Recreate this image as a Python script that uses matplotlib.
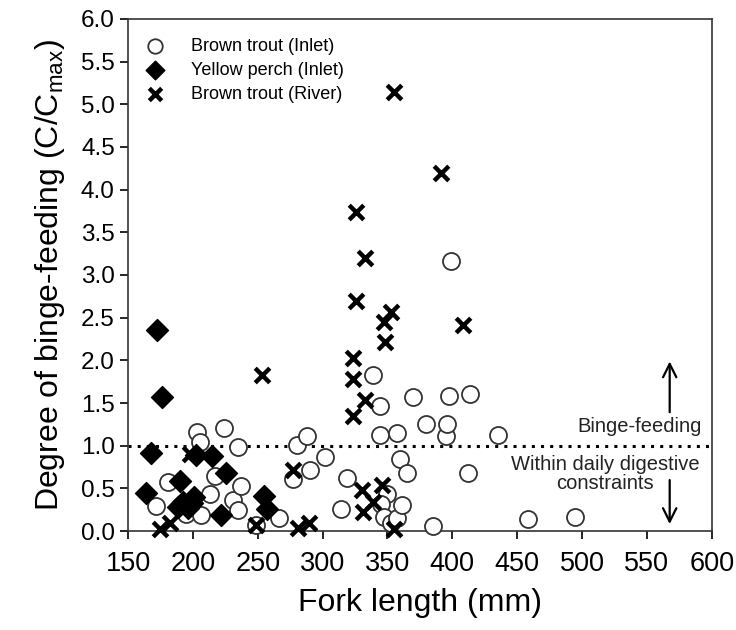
import matplotlib.pyplot as plt

plt.rcParams['font.family'] = ['Liberation Sans', 'DejaVu Sans']
plt.rcParams['mathtext.fontset'] = 'custom'
plt.rcParams['mathtext.rm'] = 'Liberation Sans'

# Brown trout (Inlet) - open circles
inlet_bt_x = [171.5, 181, 195, 203, 205.3, 206, 213, 217, 224, 231, 235, 235, 237, 249, 266,
              277.4, 280, 288, 290, 302, 314, 319, 339, 344, 344, 350, 345, 347, 353, 357,
              357, 360, 361, 365, 370, 380, 385, 395, 396, 397.5, 399, 412, 413.5, 435, 458, 494.5]
inlet_bt_y = [0.29, 0.58, 0.20, 1.16, 1.04, 0.19, 0.43, 0.64, 1.21, 0.36, 0.99, 0.25, 0.53, 0.07, 0.15,
              0.61, 1.01, 1.11, 0.72, 0.87, 0.26, 0.62, 1.83, 1.47, 1.12, 0.44, 0.32, 0.17, 0.09, 0.15,
              1.15, 0.85, 0.30, 0.68, 1.57, 1.25, 0.06, 1.11, 1.26, 1.58, 3.16, 0.68, 1.61, 1.13, 0.14, 0.17]

# Yellow perch (Inlet) - filled diamonds
perch_x = [172, 176, 168, 202.5, 215, 225.5, 190, 164, 201, 192, 188.5, 196, 199, 222, 254.5, 257]
perch_y = [2.35, 1.57, 0.91, 0.89, 0.88, 0.68, 0.59, 0.45, 0.40, 0.34, 0.28, 0.27, 0.33, 0.19, 0.41, 0.26]

# Brown trout (River) - crosses
river_bt_x = [355, 391, 325.7, 332.8, 325.7, 353, 347, 408, 348, 323.6, 323.6, 332.6, 323.6,
              253, 197.8, 277.4, 330, 346, 339, 331.3, 355, 289.7, 281, 175, 182, 249]
river_bt_y = [5.14, 4.19, 3.74, 3.20, 2.69, 2.57, 2.45, 2.42, 2.21, 2.03, 1.78, 1.53, 1.35,
              1.83, 0.90, 0.72, 0.48, 0.54, 0.34, 0.22, 0.03, 0.10, 0.04, 0.02, 0.10, 0.07]

fig = plt.figure(figsize=(7.36, 6.30), dpi=100)
ax = fig.add_axes([0.174, 0.157, 0.793, 0.813])

ax.scatter(inlet_bt_x, inlet_bt_y, s=150, facecolors='white', edgecolors='#333333',
           linewidths=1.3, marker='o', label='Brown trout (Inlet)', clip_on=False, zorder=3)
ax.scatter(perch_x, perch_y, s=125, c='black', marker='D',
           label='Yellow perch (Inlet)', clip_on=False, zorder=3)
ax.scatter(river_bt_x, river_bt_y, s=110, c='black', marker='x', linewidths=3.2,
           label='Brown trout (River)', clip_on=False, zorder=4)

# threshold line
ax.axhline(1.0, color='black', linestyle=(0, (1, 2)), linewidth=2.2, zorder=2)

ax.annotate('', xy=(567.6, 2.02), xytext=(567.6, 1.36),
            arrowprops=dict(arrowstyle='->', lw=1.6, color='black', mutation_scale=24))
ax.annotate('', xy=(567.6, 0.05), xytext=(567.6, 0.63),
            arrowprops=dict(arrowstyle='->', lw=1.6, color='black', mutation_scale=24))
ax.text(592, 1.22, 'Binge-feeding', ha='right', va='center', fontsize=14.5, color='#222222')
ax.text(518, 0.67, 'Within daily digestive\nconstraints', ha='center', va='center',
        fontsize=14.5, color='#222222', linespacing=1.05)

ax.set_xlim(150, 600)
ax.set_ylim(0, 6)
ax.set_xticks(range(150, 601, 50))
ax.set_yticks([i * 0.5 for i in range(13)])
ax.set_yticklabels([f'{i * 0.5:.1f}' for i in range(13)])
ax.tick_params(axis='x', labelsize=19.5, length=6, width=1.2, direction='out', pad=8)
ax.tick_params(axis='y', labelsize=17.5, length=6, width=1.2, direction='out')
for sp in ax.spines.values():
    sp.set_linewidth(1.2)
    sp.set_color('#333333')

ax.set_xlabel('Fork length (mm)', fontsize=23, labelpad=8)
ax.set_ylabel(r'Degree of binge-feeding (C/C$_{\mathregular{max}}$)', fontsize=23, labelpad=10)

ax.legend(loc='upper left', bbox_to_anchor=(-0.006, 0.988), frameon=False, fontsize=13,
          handletextpad=1.0, labelspacing=0.4, borderaxespad=0.3, borderpad=0.4,
          scatterpoints=1, markerscale=0.85)

fig.savefig('out.png', dpi=100)
